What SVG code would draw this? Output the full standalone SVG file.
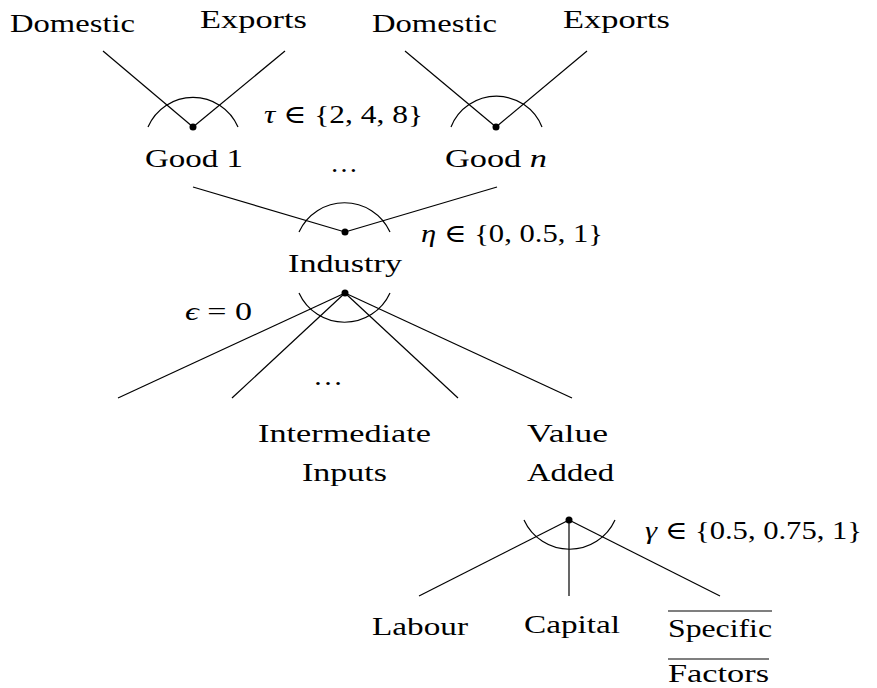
<svg xmlns="http://www.w3.org/2000/svg" width="877" height="688" viewBox="0 0 877 688">
<style>
text{font-family:"Liberation Serif","DejaVu Serif",serif;font-size:26px;fill:#000;text-anchor:middle}
.m{text-anchor:start}
.i{font-style:italic}
line,path{stroke:#000;stroke-width:1.2;fill:none}
circle{fill:#000}
</style>
<rect width="877" height="688" fill="#fff"/>
<g id="connectors">
<line x1="103" y1="51" x2="193" y2="127"/>
<line x1="285" y1="51" x2="193" y2="127"/>
<line x1="405" y1="51" x2="496" y2="127"/>
<line x1="587" y1="51" x2="496" y2="127"/>
<line x1="193" y1="187" x2="345" y2="232"/>
<line x1="497" y1="187" x2="345" y2="232"/>
<line x1="345" y1="293" x2="118" y2="398"/>
<line x1="345" y1="293" x2="232" y2="398"/>
<line x1="345" y1="293" x2="458" y2="398"/>
<line x1="345" y1="293" x2="572" y2="398"/>
<line x1="569" y1="520" x2="419" y2="596"/>
<line x1="569" y1="520" x2="569" y2="596"/>
<line x1="569" y1="520" x2="720" y2="596"/>
<path d="M148,127 A49,49 0 0 1 238,127"/>
<path d="M451,127 A49,49 0 0 1 542,127"/>
<path d="M299,232 A50,50 0 0 1 390,232"/>
<path d="M299,293 A50,50 0 0 0 390,293"/>
<path d="M524,520 A50,50 0 0 0 615,520"/>
</g>
<g id="domestic1"><text x="72.5" y="32" textLength="125" lengthAdjust="spacingAndGlyphs">Domestic</text></g>
<g id="exports1"><text x="253.5" y="28" textLength="107" lengthAdjust="spacingAndGlyphs">Exports</text></g>
<g id="domestic2"><text x="434.5" y="32" textLength="125" lengthAdjust="spacingAndGlyphs">Domestic</text></g>
<g id="exports2"><text x="616.5" y="28" textLength="107" lengthAdjust="spacingAndGlyphs">Exports</text></g>
<g id="good1"><circle cx="193" cy="127" r="3.5"/><text x="194" y="167" textLength="98" lengthAdjust="spacingAndGlyphs">Good 1</text></g>
<g id="goodn"><circle cx="496" cy="127" r="3.5"/><text x="496" y="167" textLength="102" lengthAdjust="spacingAndGlyphs">Good <tspan class="i">n</tspan></text></g>
<g id="tau"><text class="m" x="264" y="123" textLength="159" lengthAdjust="spacingAndGlyphs"><tspan class="i">τ</tspan> ∈ {2, 4, 8}</text></g>
<g id="dots1"><text x="344" y="172" textLength="28" lengthAdjust="spacingAndGlyphs">…</text></g>
<g id="industry"><circle cx="345" cy="232" r="3.5"/><circle cx="345" cy="293" r="3.5"/><text x="345" y="272" textLength="114" lengthAdjust="spacingAndGlyphs">Industry</text></g>
<g id="eta"><text class="m" x="421" y="242" textLength="182" lengthAdjust="spacingAndGlyphs"><tspan class="i">η</tspan> ∈ {0, 0.5, 1}</text></g>
<g id="epsilon"><text class="m" x="185" y="320" textLength="67" lengthAdjust="spacingAndGlyphs"><tspan class="i">ϵ</tspan> = 0</text></g>
<g id="dots2"><text x="328" y="385" textLength="30" lengthAdjust="spacingAndGlyphs">…</text></g>
<g id="intermediate"><text x="344.5" y="442" textLength="173" lengthAdjust="spacingAndGlyphs">Intermediate</text><text x="344.5" y="481" textLength="85" lengthAdjust="spacingAndGlyphs">Inputs</text></g>
<g id="valueadded"><circle cx="569" cy="520" r="3.5"/><text x="567.5" y="442" textLength="81" lengthAdjust="spacingAndGlyphs">Value</text><text x="570.5" y="481" textLength="87" lengthAdjust="spacingAndGlyphs">Added</text></g>
<g id="gamma"><text class="m" x="645" y="539" textLength="217" lengthAdjust="spacingAndGlyphs"><tspan class="i">γ</tspan> ∈ {0.5, 0.75, 1}</text></g>
<g id="labour"><text x="420" y="635" textLength="96" lengthAdjust="spacingAndGlyphs">Labour</text></g>
<g id="capital"><text x="572" y="633" textLength="96" lengthAdjust="spacingAndGlyphs">Capital</text></g>
<g id="specific"><line x1="668" y1="611" x2="772" y2="611"/><text x="720" y="637" textLength="104" lengthAdjust="spacingAndGlyphs">Specific</text><line x1="668" y1="659" x2="769" y2="659"/><text x="718.5" y="682" textLength="101" lengthAdjust="spacingAndGlyphs">Factors</text></g>
</svg>
